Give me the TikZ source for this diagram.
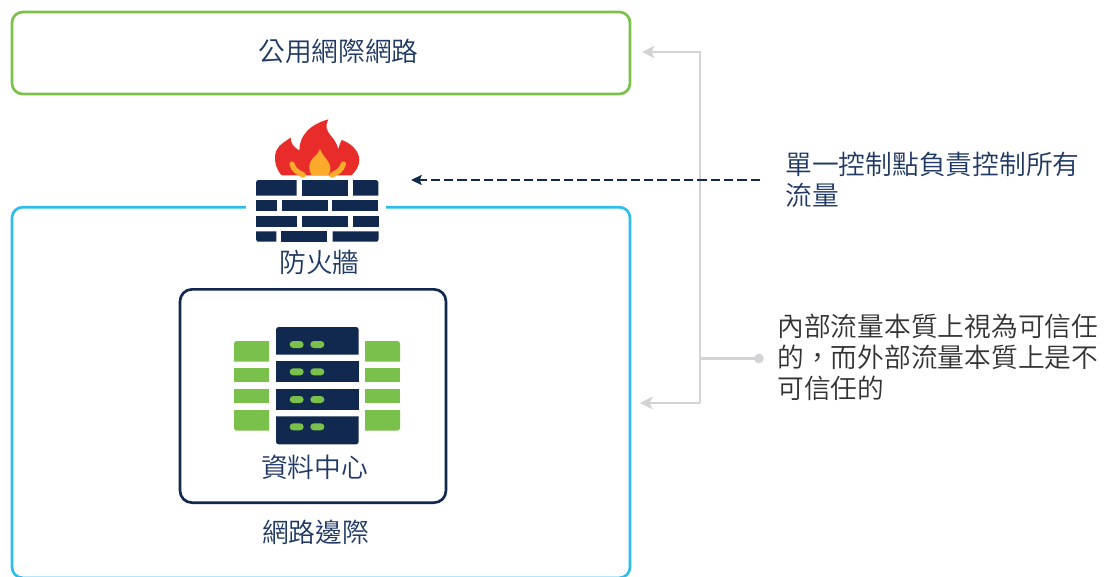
\documentclass[tikz,border=0pt]{standalone}
\usepackage{fontspec}
\setmainfont{Noto Sans CJK TC DemiLight}
\usetikzlibrary{arrows.meta}
\definecolor{navy}{HTML}{12294F}
\definecolor{txtnavy}{HTML}{1F3864}
\definecolor{txtgray}{HTML}{333333}
\definecolor{pubgreen}{HTML}{7AC14C}
\definecolor{perimblue}{HTML}{2BBDEE}
\definecolor{linegray}{HTML}{D2D3D5}
\definecolor{flamered}{HTML}{E82C2A}
\definecolor{flameorange}{HTML}{FBAA2B}
\tikzset{
  every node/.style={inner sep=0pt,outer sep=0pt},
  frame/.style={draw=#1,line width=2pt,rounded corners=8pt,fill=white},
  lbl/.style={font=\fontsize{20.05pt}{23.25pt}\selectfont,text=txtnavy},
  note/.style={lbl,align=left,anchor=north west},
  bus/.style={draw=linegray,line width=2pt},
  busarrow/.style={bus,-{Stealth[length=9.5pt,width=9.5pt,inset=2.5pt]}},
  dasharrow/.style={draw=navy,line width=1.9pt,dash pattern=on 7pt off 3pt,-{Stealth[length=8pt,width=7.5pt,inset=1.5pt]}},
  brick/.style={fill=navy},
  pill/.style={fill=pubgreen,rounded corners=2.6pt},
  greenbar/.style={fill=pubgreen},
}
\begin{document}
\begin{tikzpicture}[x=0.75pt,y=-0.75pt]
\useasboundingbox (0,0) rectangle (1114,576);
\fill[white] (0,0) rectangle (1114,576);
\clip (0,0) rectangle (1114,576);

% frames
\node[frame=pubgreen,minimum width=463.5pt,minimum height=61.5pt] (pub) at (321,53) {};
\node[frame=perimblue,minimum width=463.5pt,minimum height=278pt] (perim) at (321,392.5) {};
\node[fill=white,minimum width=105pt,minimum height=96pt] (fw) at (316,181) {};
\node[frame=navy,minimum width=199.5pt,minimum height=160pt,rounded corners=9pt] (dc) at (313,396) {};

% labels
\node[lbl] (publbl) at (338.5,51) {公用網際網路};
\node[lbl] (fwlbl) at (319.5,262) {防火牆};
\node[lbl] (dclbl) at (314.5,467) {資料中心};
\node[lbl] (perimlbl) at (315.5,532.5) {網路邊際};
\node[note] (note1) at (785.5,152) {單一控制點負責控制所有\\流量};
\node[note,text=txtgray] (note2) at (777.5,314) {內部流量本質上視為可信任\\的，而外部流量本質上是不\\可信任的};

% connectors
\coordinate (busTop) at (700,52);
\coordinate (busBot) at (700,403);
\coordinate (busMid) at (700,358.5);
\coordinate (pubTip) at (642,52);
\coordinate (perimTip) at (640,403);
\coordinate (dot) at (759,358.5);
\coordinate (dashStart) at (760,180);
\coordinate (dashTip) at (411,180);
\draw[busarrow] (busBot) -- (perimTip);
\draw[busarrow] (busBot) -- (busTop) -- (pubTip);
\draw[bus] (busMid) -- (dot);
\fill[linegray] (dot) circle (3.6pt);
\draw[dasharrow] (dashStart) -- (dashTip);

% firewall icon (zoom coordinates: origin 220,110, 3 units per px)
\begin{scope}[shift={(220,110)},x=0.25pt,y=-0.25pt]
  \fill[flamered] (185,196) .. controls (165,175) and (160,140) .. (170,120)
    .. controls (178,102) and (200,92) .. (212,83)
    .. controls (212,100) and (220,110) .. (238,122)
    .. controls (238,80) and (265,45) .. (325,28)
    .. controls (315,50) and (318,60) .. (335,80)
    .. controls (345,92) and (352,105) .. (355,118)
    .. controls (358,105) and (362,95) .. (365,90)
    .. controls (395,100) and (418,125) .. (418,150)
    .. controls (418,170) and (405,185) .. (395,196) -- cycle;
  \fill[flameorange] (275,196) .. controls (262,175) and (268,155) .. (280,143)
    .. controls (292,132) and (298,125) .. (300,117)
    .. controls (305,130) and (312,138) .. (320,148)
    .. controls (333,165) and (335,180) .. (325,196) -- cycle;
  \draw[flameorange,line width=4pt,line cap=round] (216,162) .. controls (220,180) and (235,188) .. (250,195);
  \draw[flameorange,line width=4pt,line cap=round] (370,162) .. controls (366,180) and (350,188) .. (336,195);
  % top row: rounded outer top corners
  \fill[brick] (108,257) -- (108,218) [rounded corners=2pt] -- (108,210) -- (120,210) [sharp corners] -- (230,210) -- (230,257) -- cycle;
  \fill[brick] (246,210) rectangle (383,257);
  \fill[brick] (399,257) -- (399,210) -- (465,210) [rounded corners=2pt] -- (475,210) -- (475,220) [sharp corners] -- (475,257) -- cycle;
  \foreach \xa/\xb/\ya/\yb in {108/171/270/303,186/324/270/303,336/474/270/303,
     108/231/318/351,246/384/318/351,399/477/318/351,
     184/322/364/395}
    \fill[brick] (\xa,\ya) rectangle (\xb,\yb);
  % bottom row: rounded outer bottom corners
  \fill[brick] (169,364) -- (108,364) -- (108,385) [rounded corners=2pt] -- (108,395) -- (118,395) [sharp corners] -- (169,395) -- cycle;
  \fill[brick] (338,364) -- (476,364) -- (476,385) [rounded corners=2pt] -- (476,395) -- (466,395) [sharp corners] -- (338,395) -- cycle;
\end{scope}

% server icon (zoom coordinates: origin 170,280, 3 units per px)
\begin{scope}[shift={(170,280)},x=0.25pt,y=-0.25pt]
  \foreach \ya/\yb in {264/306,327/369} {
    \fill[greenbar] (192,\ya) rectangle (297,\yb);
    \fill[greenbar] (585,\ya) rectangle (690,\yb);
  }
  % outer green bars: only the outer corner is rounded
  \fill[greenbar] (297,245) -- (297,183) -- (210,183) [rounded corners=2pt] -- (192,183) -- (192,200) [sharp corners] -- (192,245) -- cycle;
  \fill[greenbar] (585,245) -- (585,183) -- (675,183) [rounded corners=2pt] -- (690,183) -- (690,200) [sharp corners] -- (690,245) -- cycle;
  \fill[greenbar] (297,390) -- (297,452) -- (210,452) [rounded corners=2pt] -- (192,452) -- (192,435) [sharp corners] -- (192,390) -- cycle;
  \fill[greenbar] (585,390) -- (585,452) -- (675,452) [rounded corners=2pt] -- (690,452) -- (690,435) [sharp corners] -- (690,390) -- cycle;
  % server units
  \fill[brick] (318,224) -- (318,160) [rounded corners=2pt] -- (318,141) -- (340,141) [sharp corners] -- (545,141) [rounded corners=2pt] -- (566,141) -- (566,160) [sharp corners] -- (566,224) -- cycle;
  \fill[brick] (318,243) rectangle (567,306);
  \fill[brick] (318,327) rectangle (567,390);
  \fill[brick] (318,409) -- (318,475) [rounded corners=2pt] -- (318,493) -- (340,493) [sharp corners] -- (545,493) [rounded corners=2pt] -- (566,493) -- (566,475) [sharp corners] -- (566,409) -- cycle;
  \foreach \ya in {183,265,348,430} {
    \fill[pill] (359,\ya) rectangle (401,\ya+21);
    \fill[pill] (421,\ya) rectangle (463,\ya+21);
  }
\end{scope}
\end{tikzpicture}
\end{document}
